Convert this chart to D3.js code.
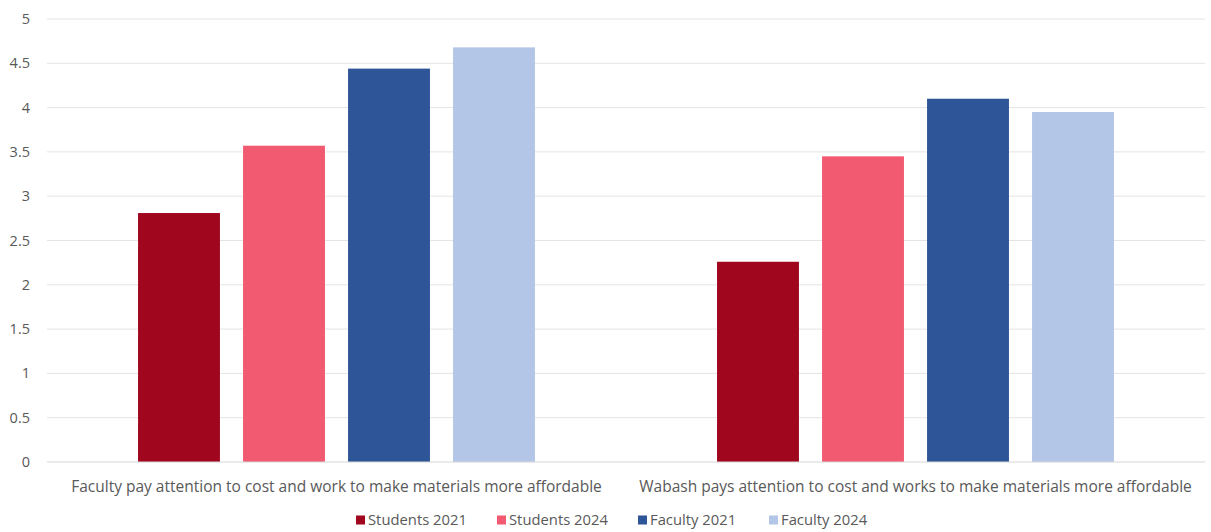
<!DOCTYPE html>
<html>
<head>
<meta charset="utf-8">
<script src="https://cdn.jsdelivr.net/npm/d3@7"></script>
<style>
  html, body { margin: 0; padding: 0; background: #fff; }
  svg { display: block; }
  text { font-family: "Open Sans", "Noto Sans", sans-serif; fill: #595959; }
</style>
</head>
<body>
<svg id="chart" width="1211" height="532"></svg>
<script>
const categories = [
  "Faculty pay attention to cost and work to make materials more affordable",
  "Wabash pays attention to cost and works to make materials more affordable"
];
const seriesNames = ["Students 2021", "Students 2024", "Faculty 2021", "Faculty 2024"];
const students2021 = [2.81, 2.26];
const students2024 = [3.57, 3.45];
const faculty2021 = [4.44, 4.10];
const faculty2024 = [4.68, 3.95];
const yTicks = [0, 0.5, 1, 1.5, 2, 2.5, 3, 3.5, 4, 4.5, 5];
const colors = ["#A0061E", "#F25A72", "#2E5597", "#B3C6E7"];

const seriesValues = [students2021, students2024, faculty2021, faculty2024];
const data = categories.map((c, i) => ({
  cat: c,
  vals: seriesNames.map((s, j) => ({ key: s, value: seriesValues[j][i] }))
}));

const svg = d3.select("#chart");
const margin = { left: 47, right: 6, top: 19, bottom: 70 };
const W = 1211, H = 532;

const x0 = d3.scaleBand().domain(categories).range([margin.left, W - margin.right]).padding(0);
const x1 = d3.scaleBand().domain(seriesNames).range([0, x0.bandwidth()])
  .paddingInner(0.22).paddingOuter(0.867);
const y = d3.scaleLinear().domain([0, 5]).range([H - margin.bottom, margin.top]);

// gridlines
svg.append("g").selectAll("line").data(yTicks.filter(d => d > 0)).join("line")
  .attr("x1", margin.left).attr("x2", W - margin.right)
  .attr("y1", d => y(d)).attr("y2", d => y(d))
  .attr("stroke", "#E4E4E4").attr("stroke-width", 1);

// y tick labels
svg.append("g").selectAll("text").data(yTicks).join("text")
  .attr("x", 30).attr("y", d => y(d)).attr("dy", "0.35em")
  .attr("text-anchor", "end").attr("font-size", 14.5)
  .text(d => d);

// bars
const g = svg.append("g").selectAll("g").data(data).join("g")
  .attr("transform", d => `translate(${x0(d.cat)},0)`);
g.selectAll("rect").data(d => d.vals).join("rect")
  .attr("x", d => x1(d.key)).attr("width", x1.bandwidth())
  .attr("y", d => y(d.value)).attr("height", d => y(0) - y(d.value))
  .attr("fill", (d, i) => colors[i]);

// axis baseline
svg.append("line")
  .attr("x1", margin.left).attr("x2", W - margin.right)
  .attr("y1", y(0)).attr("y2", y(0))
  .attr("stroke", "#D6D6D6").attr("stroke-width", 1);

// category labels
svg.append("g").selectAll("text").data(categories).join("text")
  .attr("x", d => x0(d) + x0.bandwidth() / 2).attr("y", 487).attr("dy", "0.35em")
  .attr("text-anchor", "middle").attr("font-size", 15.5)
  .text(d => d);

// legend
const legendX = [356, 497, 638, 769];
const lg = svg.append("g").selectAll("g").data(seriesNames).join("g")
  .attr("transform", (d, i) => `translate(${legendX[i]},520)`);
lg.append("rect").attr("x", 0).attr("y", -4.5).attr("width", 9).attr("height", 9)
  .attr("fill", (d, i) => colors[i]);
lg.append("text").attr("x", 12).attr("y", 0).attr("dy", "0.35em")
  .attr("font-size", 14.8).text(d => d);
</script>
</body>
</html>
